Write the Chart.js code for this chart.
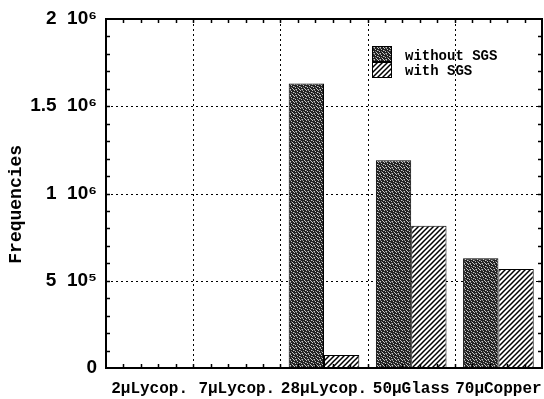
<!DOCTYPE html>
<html>
<head>
<meta charset="utf-8">
<script src="https://cdn.jsdelivr.net/npm/chart.js@4/dist/chart.umd.min.js"></script>
<style>
  html, body { margin: 0; padding: 0; background: #fff; }
  #c { display: block; }
</style>
</head>
<body>
<canvas id="c" width="544" height="399"></canvas>
<script>
// ---- data ----
const categories = ['2μLycop.', '7μLycop.', '28μLycop.', '50μGlass', '70μCopper'];
const seriesNames = ['without SGS', 'with SGS'];
const withoutSGS = [null, null, 1630000, 1190000, 629000];
const withSGS = [null, null, 75000, 815000, 567000];
const yTickValues = [0, 500000, 1000000, 1500000, 2000000];
const yTickLabels = ['0', '5  10⁵', '1  10⁶', '1.5  10⁶', '2  10⁶'];
const yMinorStep = 100000;
const yAxisTitle = 'Frequencies';

// ---- fill patterns ----
function stipplePattern() {
  const c = document.createElement('canvas');
  c.width = 6; c.height = 6;
  const g = c.getContext('2d');
  g.fillStyle = '#222222';
  g.fillRect(0, 0, 6, 6);
  g.fillStyle = '#c8c8c8';
  [[0,0],[3,1],[5,2],[1,3],[4,4],[2,5],[5,5]].forEach(p => g.fillRect(p[0], p[1], 1, 1));
  g.fillStyle = '#777777';
  [[2,0],[0,2],[3,3],[1,5]].forEach(p => g.fillRect(p[0], p[1], 1, 1));
  return g.createPattern(c, 'repeat');
}
function hatchPattern() {
  const s = 5;
  const c = document.createElement('canvas');
  c.width = s; c.height = s;
  const g = c.getContext('2d');
  g.fillStyle = '#ffffff';
  g.fillRect(0, 0, s, s);
  g.strokeStyle = '#000';
  g.lineWidth = 1.5;
  g.beginPath();
  g.moveTo(-1, s + 1); g.lineTo(s + 1, -1);
  g.moveTo(-1 - s, s + 1); g.lineTo(1, -1);
  g.moveTo(s - 1, s + 1); g.lineTo(2 * s + 1, -1);
  g.stroke();
  return g.createPattern(c, 'repeat');
}
const fills = [stipplePattern(), hatchPattern()];

// ---- frame, grid, minor ticks, legend ----
const framePlugin = {
  id: 'frame',
  beforeDatasetsDraw(chart) {
    const { ctx, chartArea: a, scales: { x, y } } = chart;
    ctx.save();
    ctx.strokeStyle = '#000';
    ctx.lineWidth = 1;
    ctx.setLineDash([2, 3]);
    ctx.beginPath();
    yTickValues.forEach(v => {
      const py = Math.round(y.getPixelForValue(v)) + 0.5;
      if (py > a.top + 2 && py < a.bottom - 2) { ctx.moveTo(a.left, py); ctx.lineTo(a.right, py); }
    });
    const n = categories.length;
    for (let i = 1; i < n; i++) {
      const px = Math.round((x.getPixelForValue(i - 1) + x.getPixelForValue(i)) / 2) + 0.5;
      ctx.moveTo(px, a.top); ctx.lineTo(px, a.bottom);
    }
    ctx.stroke();
    ctx.restore();
  },
  afterDatasetsDraw(chart) {
    const { ctx, chartArea: a, scales: { x, y } } = chart;
    ctx.save();
    ctx.strokeStyle = '#000';
    ctx.lineWidth = 1.5;
    ctx.setLineDash([]);
    const tl = 4;
    ctx.beginPath();
    for (let v = yMinorStep; v < 2000000; v += yMinorStep) {
      const py = Math.round(y.getPixelForValue(v)) + 0.5;
      ctx.moveTo(a.left, py); ctx.lineTo(a.left + tl, py);
      ctx.moveTo(a.right, py); ctx.lineTo(a.right - tl, py);
    }
    const n = categories.length;
    const cw = x.getPixelForValue(1) - x.getPixelForValue(0);
    const start = x.getPixelForValue(0) - cw / 2;
    for (let k = 1; k < n * 5; k++) {
      const px = Math.round(start + k * cw / 5) + 0.5;
      ctx.moveTo(px, a.bottom); ctx.lineTo(px, a.bottom - tl);
      ctx.moveTo(px, a.top); ctx.lineTo(px, a.top + tl);
    }
    ctx.stroke();
    ctx.lineWidth = 2;
    ctx.strokeRect(a.left, a.top, a.right - a.left, a.bottom - a.top);

    // legend
    const bx = a.left + 266, bw = 20, bh = 16;
    let by = a.top + 27;
    ctx.font = 'bold 14px "Liberation Mono", "DejaVu Sans Mono", monospace';
    ctx.textBaseline = 'alphabetic';
    ctx.textAlign = 'left';
    chart.data.datasets.forEach((ds, i) => {
      ctx.fillStyle = ds.backgroundColor;
      ctx.fillRect(bx, by, bw, bh);
      ctx.lineWidth = 1;
      ctx.strokeStyle = '#000';
      ctx.strokeRect(bx + 0.5, by + 0.5, bw - 1, bh - 1);
      ctx.fillStyle = '#000';
      ctx.fillText(ds.label, bx + 33, by + 14 - i * 1);
      by += bh;
    });
    ctx.restore();
  }
};

new Chart(document.getElementById('c'), {
  type: 'bar',
  data: {
    labels: categories,
    datasets: [
      { label: seriesNames[0], data: withoutSGS, backgroundColor: fills[0], borderColor: '#000', borderWidth: 1, borderSkipped: false },
      { label: seriesNames[1], data: withSGS, backgroundColor: fills[1], borderColor: '#000', borderWidth: 1, borderSkipped: false }
    ]
  },
  options: {
    responsive: false,
    animation: false,
    devicePixelRatio: 1,
    layout: { padding: { top: 19, right: 2, left: 0, bottom: 0 } },
    plugins: { legend: { display: false }, tooltip: { enabled: false }, title: { display: false } },
    datasets: { bar: { categoryPercentage: 0.81, barPercentage: 1.0 } },
    scales: {
      x: {
        grid: { display: false, drawTicks: false },
        border: { display: false },
        ticks: {
          color: '#000',
          font: { family: '"Liberation Mono", "DejaVu Sans Mono", monospace', size: 16, weight: 'bold' },
          padding: 11,
          maxRotation: 0,
          autoSkip: false
        },
        afterFit(s) { s.height = 31; s.paddingLeft = 0; s.paddingRight = 0; }
      },
      y: {
        min: 0,
        max: 2000000,
        grid: { display: false, drawTicks: false },
        border: { display: false },
        afterBuildTicks(s) { s.ticks = yTickValues.map(v => ({ value: v })); },
        ticks: {
          color: '#000',
          font: { family: '"Liberation Sans", "DejaVu Sans", sans-serif', size: 19, weight: 'bold' },
          padding: 9,
          callback: (v) => { const i = yTickValues.indexOf(v); return i >= 0 ? yTickLabels[i] : ''; }
        },
        title: {
          display: true,
          text: yAxisTitle + '  ',
          color: '#000',
          font: { family: '"Liberation Mono", "DejaVu Sans Mono", monospace', size: 18, weight: 'bold' },
          padding: { top: 6, bottom: 0 }
        },
        afterFit(s) { s.width = 106; s.paddingTop = 0; s.paddingBottom = 0; }
      }
    }
  },
  plugins: [framePlugin]
});
</script>
</body>
</html>
